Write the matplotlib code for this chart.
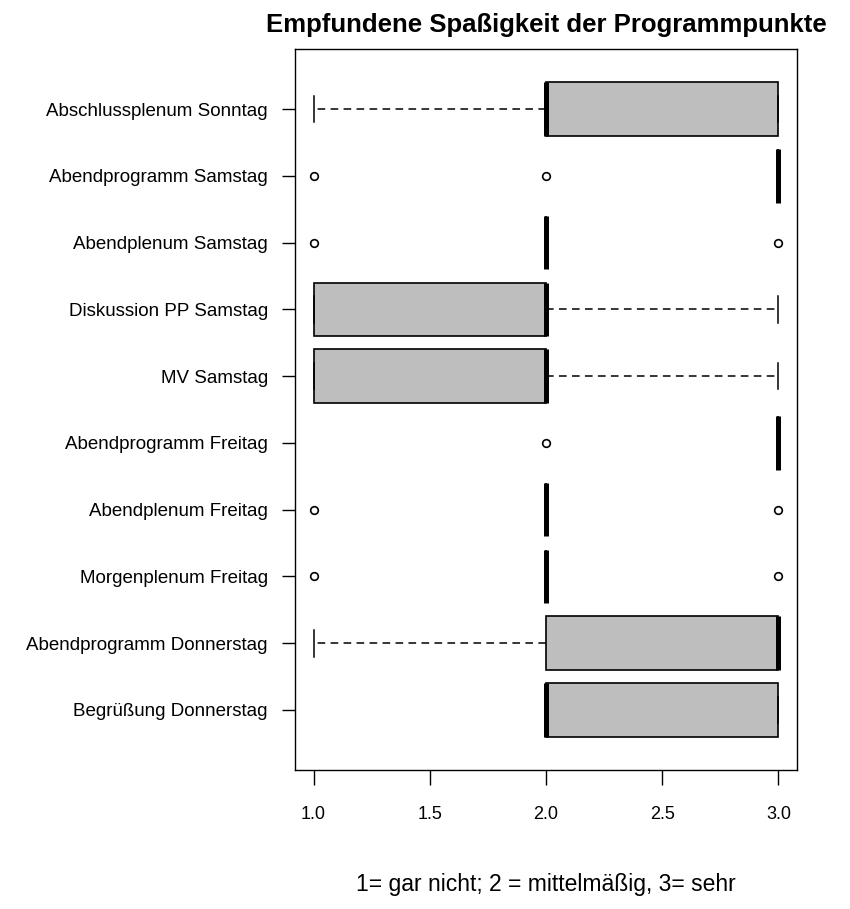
import matplotlib.pyplot as plt

plt.rcParams['font.family'] = ['Liberation Sans', 'DejaVu Sans']

# Programmpunkte von unten nach oben
labels = ["Begrüßung Donnerstag", "Abendprogramm Donnerstag", "Morgenplenum Freitag",
          "Abendplenum Freitag", "Abendprogramm Freitag", "MV Samstag",
          "Diskussion PP Samstag", "Abendplenum Samstag", "Abendprogramm Samstag",
          "Abschlussplenum Sonntag"]
q1 = [2, 2, 2, 2, 3, 1, 1, 2, 3, 2]
med = [2, 3, 2, 2, 3, 2, 2, 2, 3, 2]
q3 = [3, 3, 2, 2, 3, 2, 2, 2, 3, 3]
whislo = [2, 1, 2, 2, 3, 1, 1, 2, 3, 1]
whishi = [3, 3, 2, 2, 3, 3, 3, 2, 3, 3]
fliers = [[], [], [1, 3], [1, 3], [2], [], [], [1, 3], [1, 2], []]

stats = []
for i in range(len(labels)):
    stats.append(dict(q1=q1[i], med=med[i], q3=q3[i], whislo=whislo[i],
                      whishi=whishi[i], fliers=fliers[i], label=labels[i]))

fig = plt.figure(figsize=(8.5, 9.09), dpi=100)
ax = fig.add_axes([295 / 850, 1 - 770 / 909, (797 - 295) / 850, (770 - 49) / 909])

ax.bxp(stats, positions=range(1, len(labels) + 1), widths=0.8, capwidths=0.4,
       orientation='horizontal', patch_artist=True,
       boxprops=dict(facecolor='#bebebe', edgecolor='black', linewidth=1.2),
       medianprops=dict(color='black', linewidth=3.6, solid_capstyle='butt'),
       whiskerprops=dict(color='black', linewidth=1.1, linestyle=(0, (5, 3.5))),
       capprops=dict(color='black', linewidth=1.1),
       flierprops=dict(marker='o', markersize=5.5, markerfacecolor='none',
                       markeredgecolor='black', markeredgewidth=1.2))

ax.set_xlim(0.92, 3.08)
ax.set_ylim(0.1, 10.9)
ax.set_xticks([1.0, 1.5, 2.0, 2.5, 3.0])
ax.set_xticklabels(['1.0', '1.5', '2.0', '2.5', '3.0'])
ax.tick_params(axis='x', length=11, width=1, pad=15, labelsize=13)
ax.tick_params(axis='y', length=9.5, width=1, pad=10, labelsize=13.5)
for s in ax.spines.values():
    s.set_linewidth(1)

ax.set_title("Empfundene Spaßigkeit der Programmpunkte", fontsize=18.5,
             fontweight='bold', pad=12)
fig.text(546 / 850, 1 - 885 / 909, "1= gar nicht; 2 = mittelmäßig, 3= sehr",
         ha='center', va='center', fontsize=16.5)

fig.savefig('out.png', dpi=100)
